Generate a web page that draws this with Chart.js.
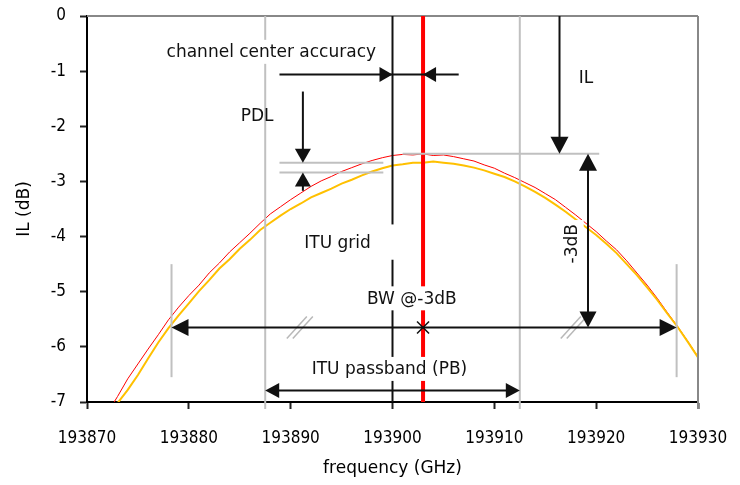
<!DOCTYPE html>
<html>
<head>
<meta charset="utf-8">
<script src="https://cdn.jsdelivr.net/npm/chart.js@4.4.1/dist/chart.umd.min.js"></script>
<style>
  html, body { margin:0; padding:0; background:#fff; }
  #chart { display:block; }
</style>
</head>
<body>
<canvas id="chart" width="740" height="485"></canvas>
<script>
const FONT = '"DejaVu Sans","Noto Sans",sans-serif';
const NUM_FONT = '"DejaVu Sans Condensed","DejaVu Sans","Noto Sans",sans-serif';

// ---- measured spectra (GHz / dB)
const freq = [
  193872,193873,193874,193875,193876,193877,193878,193879,193880,193881,
  193882,193883,193884,193885,193886,193887,193888,193889,193890,193891,
  193892,193893,193894,193895,193896,193897,193898,193899,193900,193901,
  193902,193903,193904,193905,193906,193907,193908,193909,193910,193911,
  193912,193913,193914,193915,193916,193917,193918,193919,193920,193921,
  193922,193923,193924,193925,193926,193927,193928,193929,193930
];
// best polarisation state (upper trace)
const ilMax = [
  -7.20,-6.90,-6.58,-6.31,-6.04,-5.78,-5.51,-5.28,-5.07,-4.88,
  -4.66,-4.48,-4.28,-4.11,-3.94,-3.76,-3.59,-3.46,-3.33,-3.21,
  -3.09,-2.99,-2.91,-2.82,-2.75,-2.68,-2.62,-2.57,-2.53,-2.51,
  -2.52,-2.50,-2.53,-2.52,-2.55,-2.59,-2.63,-2.70,-2.76,-2.85,
  -2.93,-3.02,-3.11,-3.22,-3.33,-3.47,-3.61,-3.76,-3.91,-4.08,
  -4.24,-4.44,-4.66,-4.88,-5.12,-5.38,-5.63,-5.90,-6.18
];
// worst polarisation state (lower trace)
const ilMin = [
  -7.30,-7.02,-6.78,-6.51,-6.21,-5.92,-5.66,-5.43,-5.21,-4.99,
  -4.79,-4.58,-4.41,-4.22,-4.06,-3.88,-3.75,-3.62,-3.50,-3.40,
  -3.29,-3.21,-3.13,-3.04,-2.97,-2.89,-2.82,-2.76,-2.71,-2.69,
  -2.66,-2.66,-2.64,-2.66,-2.68,-2.71,-2.75,-2.80,-2.86,-2.92,
  -3.00,-3.09,-3.19,-3.30,-3.42,-3.55,-3.69,-3.83,-3.97,-4.13,
  -4.30,-4.50,-4.70,-4.92,-5.15,-5.40,-5.64,-5.91,-6.19
];

// ---- characteristic values
const ituGrid    = 193900;
const chCenter   = 193903;
const pbEdges    = [193887.5, 193912.5];
const bwEdges    = [193878.3, 193927.9];
const bwLevel    = -5.65;
const ilLevel    = -2.5;
const pdlLevels  = [-2.66, -2.84];

// ---- dimension drawing on top of the plot
const GRAY = '#c0c0c0';
const INK  = '#111';

const dims = {
  id:'dims',
  afterDatasetsDraw(chart){
    const {ctx, scales:{x:sx, y:sy}} = chart;
    const X = v => sx.getPixelForValue(v);
    const Y = v => sy.getPixelForValue(v);

    const line = (x1,y1,x2,y2,color,w) => {
      ctx.beginPath(); ctx.moveTo(x1,y1); ctx.lineTo(x2,y2);
      ctx.strokeStyle=color; ctx.lineWidth=w; ctx.stroke();
    };
    const head = (tx,ty,dir,len,half) => {
      const d = {up:[0,1],down:[0,-1],left:[1,0],right:[-1,0]}[dir];
      const bx = tx + d[0]*len, by = ty + d[1]*len;
      ctx.beginPath();
      ctx.moveTo(tx,ty);
      ctx.lineTo(bx + d[1]*half, by + d[0]*half);
      ctx.lineTo(bx - d[1]*half, by - d[0]*half);
      ctx.closePath(); ctx.fillStyle=INK; ctx.fill();
    };
    const label = (txt,vx,vy,box,rot) => {
      ctx.save();
      ctx.font = '17px ' + FONT;
      ctx.translate(X(vx), Y(vy));
      if (rot) ctx.rotate(rot);
      const w = ctx.measureText(txt).width;
      if (box){ ctx.fillStyle='#fff'; ctx.fillRect(-w/2-4,-12,w+8,24); }
      ctx.fillStyle=INK; ctx.textAlign='center'; ctx.textBaseline='middle';
      ctx.fillText(txt,0,1);
      ctx.restore();
    };

    ctx.save();
    ctx.lineCap='butt';

    // frame top / right
    line(sx.left, Y(0), X(193930), Y(0), '#888', 2);
    line(X(193930), Y(0), X(193930), Y(-7)+7, '#888', 2);

    // ITU passband edges
    pbEdges.forEach(p => line(X(p), Y(0), X(p), Y(-7)+7, GRAY, 2));

    // ITU grid (broken for its label)
    line(X(ituGrid), Y(0), X(ituGrid), Y(-3.78), INK, 2);
    line(X(ituGrid), Y(-4.42), X(ituGrid), Y(-7), INK, 2);

    // channel centre
    line(X(chCenter), Y(0), X(chCenter), Y(-7), '#ff0000', 4);

    // IL reference and PDL levels
    line(X(193901), Y(ilLevel), X(193920.3), Y(ilLevel), GRAY, 2);
    pdlLevels.forEach(l => line(X(193888.9), Y(l), X(193899.1), Y(l), GRAY, 2));

    // BW edge markers
    bwEdges.forEach(b => line(X(b), Y(-4.5), X(b), Y(-6.55), GRAY, 2));

    // break marks on BW line
    [193890.9, 193917.8].forEach(b => {
      const cx = X(b), cy = Y(bwLevel);
      line(cx-13, cy+11, cx+7, cy-11, '#b8b8b8', 1.5);
      line(cx-7, cy+11, cx+13, cy-11, '#b8b8b8', 1.5);
    });

    // PDL arrows
    const xp = X(193891.2);
    line(xp, Y(-1.37), xp, Y(pdlLevels[0])-8, INK, 2);
    head(xp, Y(pdlLevels[0]), 'down', 14, 8);
    line(xp, Y(-3.17), xp, Y(pdlLevels[1])+8, INK, 2);
    head(xp, Y(pdlLevels[1]), 'up', 14, 8);

    // channel centre accuracy
    const ya = Y(-1.06);
    line(X(193888.9), ya, X(193906.5), ya, INK, 2);
    head(X(ituGrid), ya, 'right', 13, 7.5);
    head(X(chCenter), ya, 'left', 13, 7.5);

    // IL arrow
    const xi = X(193916.4);
    line(xi, Y(0), xi, Y(ilLevel)-10, INK, 2);
    head(xi, Y(ilLevel), 'down', 17, 9);

    // -3dB arrow
    const xd = X(193919.2);
    line(xd, Y(ilLevel)+10, xd, Y(bwLevel)-10, INK, 2);
    head(xd, Y(ilLevel), 'up', 17, 9);
    head(xd, Y(bwLevel), 'down', 16, 8.5);

    // BW arrow
    const yb = Y(bwLevel);
    line(X(bwEdges[0])+10, yb, X(bwEdges[1])-10, yb, INK, 2);
    head(X(bwEdges[0]), yb, 'left', 17, 8.5);
    head(X(bwEdges[1]), yb, 'right', 17, 8.5);

    // passband arrow
    const yp = Y(-6.79);
    line(X(pbEdges[0])+8, yp, X(pbEdges[1])-8, yp, INK, 2);
    head(X(pbEdges[0]), yp, 'left', 14, 7.5);
    head(X(pbEdges[1]), yp, 'right', 14, 7.5);

    // labels
    label('channel center accuracy', 193888.1, -0.65, true);
    label('PDL', 193886.7, -1.80, false);
    label('IL', 193919.0, -1.11, false);
    label('ITU grid', 193894.6, -4.11, false);
    label('-3dB', 193917.6, -4.13, true, -Math.PI/2);
    label('BW @-3dB', 193901.9, -5.12, true);
    label('ITU passband (PB)', 193899.7, -6.40, true);

    // centre cross on the BW line
    const cx = X(chCenter);
    line(cx-6, yb-6, cx+6, yb+6, INK, 1.5);
    line(cx-6, yb+6, cx+6, yb-6, INK, 1.5);

    ctx.restore();
  }
};

const pts = vals => freq.map((f,i) => ({x:f, y:vals[i]}));

new Chart(document.getElementById('chart').getContext('2d'), {
  type:'line',
  data:{
    datasets:[
      { label:'IL max', data:pts(ilMax), borderColor:'#ff0000', borderWidth:1, order:1 },
      { label:'IL min', data:pts(ilMin), borderColor:'#ffc000', borderWidth:2, order:0 }
    ]
  },
  options:{
    responsive:false,
    animation:false,
    layout:{ padding:{ left:0, right:42, top:16, bottom:0 } },
    elements:{ point:{ radius:0 }, line:{ tension:0 } },
    plugins:{ legend:{ display:false }, tooltip:{ enabled:false } },
    scales:{
      x:{
        type:'linear', min:193870, max:193930,
        ticks:{ stepSize:10, callback:v => String(v), color:'#000',
                font:{ family:NUM_FONT, size:17 }, padding:19, maxRotation:0 },
        grid:{ drawOnChartArea:false, tickLength:7, tickColor:'#222', tickWidth:2 },
        border:{ color:'#000', width:2 },
        title:{ display:true, text:'frequency (GHz)', color:'#000',
                font:{ family:FONT, size:17 }, padding:{ top:0, bottom:6 } },
        afterFit: s => { s.height = 83; s.paddingLeft = 0; s.paddingRight = 0; }
      },
      y:{
        min:-7, max:0,
        ticks:{ stepSize:1, color:'#000', font:{ family:NUM_FONT, size:17 }, padding:14 },
        grid:{ drawOnChartArea:false, tickLength:7, tickColor:'#222', tickWidth:2 },
        border:{ color:'#000', width:2 },
        title:{ display:true, text:'IL (dB)', color:'#000',
                font:{ family:FONT, size:17 }, padding:{ top:14, bottom:0 } },
        afterFit: s => { s.width = 87; s.paddingTop = 0; s.paddingBottom = 0; }
      }
    }
  },
  plugins:[dims]
});
</script>
</body>
</html>
